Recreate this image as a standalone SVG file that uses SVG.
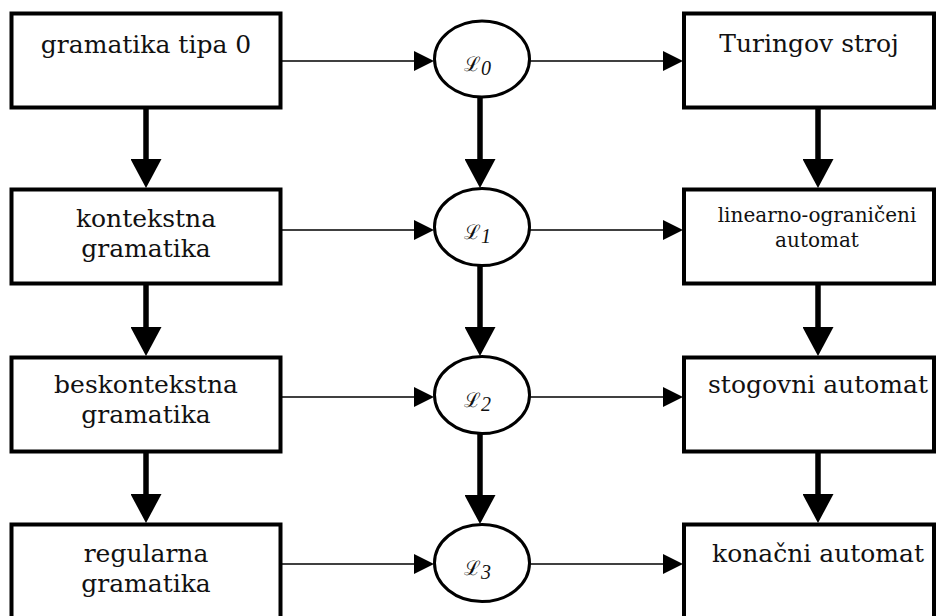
<svg xmlns="http://www.w3.org/2000/svg" width="942" height="616" viewBox="0 0 942 616">
  <style>
    .box { fill: #fff; stroke: #000; stroke-width: 4; }
    .oval { fill: #fff; stroke: #000; stroke-width: 3; }
    .lbl { font-family: "DejaVu Serif", serif; font-size: 25px; fill: #111; text-anchor: middle; }
    .small { font-size: 20px; }
    .lang { font-family: "DejaVu Serif", serif; font-size: 20px; fill: #111; }
    .sub { font-family: "Liberation Serif", serif; font-style: italic; font-size: 20px; }
    .thin { stroke: #000; stroke-width: 1.6; fill: none; }
    .thick { stroke: #000; stroke-width: 5.5; fill: none; }
  </style>
  <defs>
    <marker id="headThin" markerUnits="userSpaceOnUse" viewBox="0 0 20 20" refX="0" refY="10" markerWidth="20" markerHeight="20" orient="auto">
      <path d="M0,0 L20,10 L0,20 Z" fill="#000"/>
    </marker>
    <marker id="headThick" markerUnits="userSpaceOnUse" viewBox="0 0 29 31" refX="0" refY="15.5" markerWidth="29" markerHeight="31" orient="auto">
      <path d="M0,0 L29,15.5 L0,31 Z" fill="#000"/>
    </marker>
  </defs>

  <!-- connectors -->
  <g id="connectors">
    <!-- grammar column -->
    <line class="thick" x1="146" y1="109" x2="146" y2="159" marker-end="url(#headThick)"/>
    <line class="thick" x1="146" y1="285" x2="146" y2="327" marker-end="url(#headThick)"/>
    <line class="thick" x1="146" y1="453" x2="146" y2="494" marker-end="url(#headThick)"/>
    <!-- language column -->
    <line class="thick" x1="480" y1="97" x2="480" y2="159" marker-end="url(#headThick)"/>
    <line class="thick" x1="480" y1="265" x2="480" y2="327" marker-end="url(#headThick)"/>
    <line class="thick" x1="480" y1="433" x2="480" y2="495" marker-end="url(#headThick)"/>
    <!-- automaton column -->
    <line class="thick" x1="818" y1="109" x2="818" y2="159" marker-end="url(#headThick)"/>
    <line class="thick" x1="818" y1="285" x2="818" y2="327" marker-end="url(#headThick)"/>
    <line class="thick" x1="818" y1="453" x2="818" y2="494" marker-end="url(#headThick)"/>
    <!-- grammar -> language -->
    <line class="thin" x1="282" y1="61" x2="414" y2="61" marker-end="url(#headThin)"/>
    <line class="thin" x1="282" y1="230" x2="414" y2="230" marker-end="url(#headThin)"/>
    <line class="thin" x1="282" y1="397" x2="414" y2="397" marker-end="url(#headThin)"/>
    <line class="thin" x1="282" y1="564" x2="414" y2="564" marker-end="url(#headThin)"/>
    <!-- language -> automaton -->
    <line class="thin" x1="530" y1="61" x2="663" y2="61" marker-end="url(#headThin)"/>
    <line class="thin" x1="530" y1="230" x2="663" y2="230" marker-end="url(#headThin)"/>
    <line class="thin" x1="530" y1="397" x2="663" y2="397" marker-end="url(#headThin)"/>
    <line class="thin" x1="530" y1="564" x2="663" y2="564" marker-end="url(#headThin)"/>
  </g>

  <!-- grammars -->
  <g id="g0">
    <rect class="box" x="11.5" y="13.5" width="269" height="94"/>
    <text class="lbl" x="146" y="53">gramatika tipa 0</text>
  </g>
  <g id="g1">
    <rect class="box" x="11.5" y="189.5" width="269" height="94"/>
    <text class="lbl" x="146" y="227">kontekstna</text>
    <text class="lbl" x="146" y="257">gramatika</text>
  </g>
  <g id="g2">
    <rect class="box" x="11.5" y="357.5" width="269" height="94"/>
    <text class="lbl" x="146" y="393">beskontekstna</text>
    <text class="lbl" x="146" y="423">gramatika</text>
  </g>
  <g id="g3">
    <rect class="box" x="11.5" y="524.5" width="269" height="94"/>
    <text class="lbl" x="146" y="562">regularna</text>
    <text class="lbl" x="146" y="592">gramatika</text>
  </g>

  <!-- language classes -->
  <g id="L0">
    <ellipse class="oval" cx="482" cy="59" rx="47.5" ry="38"/>
    <text class="lang" x="464" y="71">ℒ<tspan class="sub" dy="4">0</tspan></text>
  </g>
  <g id="L1">
    <ellipse class="oval" cx="482" cy="227" rx="47.5" ry="38.5"/>
    <text class="lang" x="464" y="239">ℒ<tspan class="sub" dy="4">1</tspan></text>
  </g>
  <g id="L2">
    <ellipse class="oval" cx="482" cy="395" rx="47.5" ry="38.5"/>
    <text class="lang" x="464" y="407">ℒ<tspan class="sub" dy="4">2</tspan></text>
  </g>
  <g id="L3">
    <ellipse class="oval" cx="482" cy="563" rx="47.5" ry="38.5"/>
    <text class="lang" x="464" y="575">ℒ<tspan class="sub" dy="4">3</tspan></text>
  </g>

  <!-- automata -->
  <g id="a0">
    <rect class="box" x="684" y="13.5" width="250" height="94"/>
    <text class="lbl" x="809" y="52">Turingov stroj</text>
  </g>
  <g id="a1">
    <rect class="box" x="684" y="189.5" width="250" height="94"/>
    <text class="lbl small" x="817" y="222">linearno-ograničeni</text>
    <text class="lbl small" x="817" y="247">automat</text>
  </g>
  <g id="a2">
    <rect class="box" x="684" y="357.5" width="250" height="94"/>
    <text class="lbl" x="818" y="393">stogovni automat</text>
  </g>
  <g id="a3">
    <rect class="box" x="684" y="524.5" width="250" height="94"/>
    <text class="lbl" x="818" y="562">konačni automat</text>
  </g>
</svg>
